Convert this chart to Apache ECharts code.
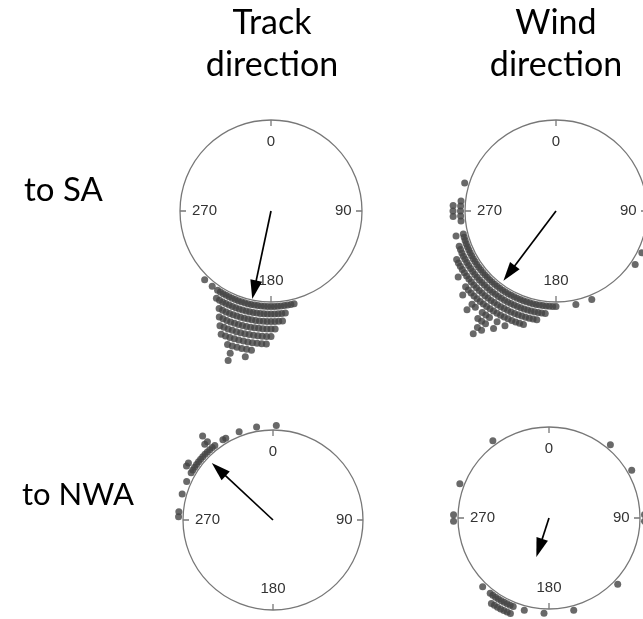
<!DOCTYPE html>
<html>
<head>
<meta charset="utf-8">
<script src="https://cdn.jsdelivr.net/npm/echarts@6/dist/echarts.min.js"></script>
<style>
  html, body { margin: 0; padding: 0; background: #ffffff; }
  #chart { width: 643px; height: 619px; }
</style>
</head>
<body>
<div id="chart"></div>
<script>
// Column and row headings
const columnTitles = ['Track\ndirection', 'Wind\ndirection'];
const rowTitles = ['to SA', 'to NWA'];

// Compass labels drawn on every circle
const compassTicks = [0, 90, 180, 270];

// Stacked circular dot plots: bin direction (deg, clockwise from north) and dots per bin
const trackSA_angles = [166, 168, 170, 172, 174, 176, 178, 180, 182, 184, 186, 188, 190, 192, 194, 196, 198, 200, 202, 204, 206, 208, 210, 212, 214, 218, 224];
const trackSA_counts = [1, 1, 1, 2, 3, 3, 4, 5, 6, 6, 6, 7, 8, 7, 7, 9, 7, 6, 6, 5, 4, 3, 2, 2, 1, 1, 1];

const windSA_angles = [116, 124, 158, 168, 180, 182, 184, 186, 188, 190, 192, 194, 196, 198, 200, 202, 204, 206, 208, 210, 212, 214, 216, 218, 220, 222, 224, 226, 228, 230, 232, 234, 236, 238, 240, 242, 244, 246, 248, 250, 252, 254, 256, 264, 267, 270, 273, 276, 287];
const windSA_counts = [1, 1, 1, 1, 1, 1, 1, 2, 2, 3, 3, 3, 4, 4, 4, 4, 5, 4, 6, 4, 7, 8, 6, 4, 5, 6, 4, 4, 5, 4, 3, 3, 4, 3, 3, 3, 3, 2, 2, 2, 1, 1, 2, 1, 2, 2, 2, 1, 1];

const trackNWA_angles = [272, 275, 286, 294, 300, 302, 304, 306, 308, 310, 312, 314, 316, 318, 320, 322, 328, 330, 339, 350, 2];
const trackNWA_counts = [1, 1, 1, 1, 1, 2, 2, 1, 1, 1, 1, 1, 1, 2, 3, 1, 1, 1, 1, 1, 1];

const windNWA_angles = [40, 60, 88, 92, 134, 165, 183, 195, 202, 204, 206, 208, 210, 212, 214, 216, 218, 224, 268, 272, 291, 324];
const windNWA_counts = [1, 1, 1, 1, 1, 1, 1, 1, 2, 2, 2, 2, 2, 2, 2, 1, 1, 1, 1, 1, 1, 1];

// Mean vectors: direction (deg) and mean resultant length
const meanDirection = [192, 217, 313, 198];
const meanLength = [0.99, 0.96, 0.93, 0.45];

// ---- layout of the four circular panels ----
const panels = [
  { center: [271, 211], r: 91, angles: trackSA_angles,  counts: trackSA_counts },
  { center: [556, 211], r: 91, angles: windSA_angles,   counts: windSA_counts },
  { center: [273, 520], r: 90, angles: trackNWA_angles, counts: trackNWA_counts },
  { center: [549, 518], r: 91, angles: windNWA_angles,  counts: windNWA_counts }
];

const DOT_SIZE = 7;        // px
const FIRST_ROW = 4.5;     // px outside the circle
const ROW_STEP = 7.5;      // px between stacked rows
const HEAD = [12, 19];     // arrow head width, length (px)

const labelFont = { fontFamily: 'Liberation Sans, Arial, sans-serif', fontSize: 15, color: '#333333', lineHeight: 15 };

const polar = [], angleAxis = [], radiusAxis = [], series = [];

panels.forEach((p, i) => {
  polar.push({ center: p.center, radius: p.r });
  angleAxis.push({
    polarIndex: i,
    type: 'value',
    min: 0, max: 360, interval: 90,
    startAngle: 90, clockwise: true,
    axisLine: { show: true, lineStyle: { color: '#777777', width: 1.3 } },
    axisTick: { show: true, inside: true, length: 6, lineStyle: { color: '#777777', width: 1.3 } },
    splitLine: { show: false },
    axisLabel: {
      show: true,
      margin: -37,
      formatter: v => (compassTicks.indexOf(v) >= 0 ? '{p' + v + '|' + v + '}' : ''),
      rich: {
        p0:   Object.assign({ padding: [0, 0, 15, 0] }, labelFont),
        p90:  Object.assign({ padding: [0, 0, 0, 10] }, labelFont),
        p180: Object.assign({ padding: [17, 0, 0, 0] }, labelFont),
        p270: Object.assign({ padding: [0, 0, 0, 0] }, labelFont)
      }
    }
  });
  radiusAxis.push({
    polarIndex: i, type: 'value', min: 0, max: 1,
    axisLine: { show: false }, axisTick: { show: false },
    axisLabel: { show: false }, splitLine: { show: false }
  });

  // stacked dots, one per observation, rows growing outward from the circle
  const dots = [];
  p.angles.forEach((a, j) => {
    for (let k = 0; k < p.counts[j]; k++) {
      dots.push([1 + (FIRST_ROW + k * ROW_STEP) / p.r, a]);
    }
  });
  series.push({
    type: 'scatter',
    coordinateSystem: 'polar',
    polarIndex: i,
    data: dots,
    symbol: 'circle',
    symbolSize: DOT_SIZE,
    itemStyle: { color: '#444444' },
    clip: false,
    silent: true,
    z: 2
  });

  // mean vector arrow
  const dir = meanDirection[i];
  const headCentre = meanLength[i] - (HEAD[1] / 2) / p.r;
  series.push({
    type: 'line',
    coordinateSystem: 'polar',
    polarIndex: i,
    data: [
      { value: [0, dir], symbol: 'none' },
      { value: [headCentre, dir], symbol: 'triangle', symbolSize: HEAD, symbolRotate: -dir,
        itemStyle: { color: '#000000' } }
    ],
    showSymbol: true,
    lineStyle: { color: '#000000', width: 1.7 },
    itemStyle: { color: '#000000' },
    clip: false,
    silent: true,
    z: 5
  });
});

const headingFont = 'Lato, Carlito, "Open Sans", sans-serif';
const graphic = [
  { type: 'text', x: 272, y: 44, style: { text: columnTitles[0], fontFamily: headingFont, fontSize: 34, lineHeight: 42, fill: '#000', align: 'center', verticalAlign: 'middle' } },
  { type: 'text', x: 556, y: 44, style: { text: columnTitles[1], fontFamily: headingFont, fontSize: 34, lineHeight: 42, fill: '#000', align: 'center', verticalAlign: 'middle' } },
  { type: 'text', x: 24, y: 190, style: { text: rowTitles[0], fontFamily: headingFont, fontSize: 33, fill: '#000', align: 'left', verticalAlign: 'middle' } },
  { type: 'text', x: 22, y: 495, style: { text: rowTitles[1], fontFamily: headingFont, fontSize: 31, fill: '#000', align: 'left', verticalAlign: 'middle' } }
];

const chart = echarts.init(document.getElementById('chart'), null, { renderer: 'canvas' });
chart.setOption({
  animation: false,
  backgroundColor: '#ffffff',
  polar, angleAxis, radiusAxis, series, graphic
});
</script>
</body>
</html>
